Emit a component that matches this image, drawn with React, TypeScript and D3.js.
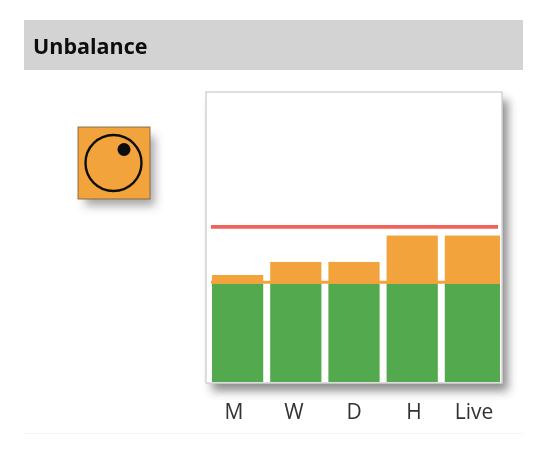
import React from "react";
import * as d3 from "d3";

const categories = ["M", "W", "D", "H", "Live"];
const greenValues = [33.8, 33.8, 33.8, 33.8, 33.8];
const orangeValues = [36.9, 41.4, 41.4, 50.5, 50.5];
const redLimit = 53.5;
const orangeLimit = 34.4;
const title = "Unbalance";

const W = 547;
const H = 458;
const font = "'Open Sans', 'Noto Sans', sans-serif";
const box = { l: 206, r: 502, t: 92, b: 383 };

export default function App() {
  const y = d3.scaleLinear().domain([0, 100]).range([382, 92]);
  const x = d3.scaleBand().domain(categories).range([212, 496]).paddingInner(0.12).paddingOuter(0);
  const xl = d3.scalePoint().domain(categories).range([234, 474]);
  const lastRight = 500;
  return (
    <svg width={W} height={H} viewBox={`0 0 ${W} ${H}`} style={{ position: "absolute", left: 0, top: 0, background: "#fff" }}>
      <defs>
        <filter id="soft" x="-5%" y="-5%" width="110%" height="110%"><feGaussianBlur stdDeviation="0.5" /></filter>
        <filter id="shadow" x="-30%" y="-30%" width="170%" height="170%"><feGaussianBlur stdDeviation="5" /></filter>
      </defs>
      <g filter="url(#soft)">
        <rect x={24} y={20} width={499} height={50} fill="#d3d3d3" />
        <text x={33} y={54} fontFamily={font} fontWeight={700} fontSize={21.5} fill="#0a0a0a">{title}</text>
        <line x1={24} x2={523} y1={433.5} y2={433.5} stroke="#f4f4f4" strokeWidth={1} />

        <rect x={85} y={136} width={70} height={70} fill="#555" opacity={0.5} filter="url(#shadow)" />
        <rect x={78} y={127} width={72} height={72} fill="#f2a33a" stroke="#6f5a3a" strokeWidth={0.8} />
        <circle cx={113.5} cy={163} r={28} fill="none" stroke="#111" strokeWidth={2.4} />
        <circle cx={124} cy={149.5} r={6.5} fill="#0a0a0a" />

        <rect x={box.l + 6} y={box.t + 8} width={box.r - box.l} height={box.b - box.t} fill="#444" opacity={0.6} filter="url(#shadow)" />
        <rect x={box.l} y={box.t} width={box.r - box.l} height={box.b - box.t} fill="#fff" stroke="#d4d4d4" strokeWidth={1.5} />

        <line x1={211} x2={498} y1={y(redLimit)} y2={y(redLimit)} stroke="#f0625a" strokeWidth={3.6} />
        <line x1={211} x2={498} y1={y(orangeLimit)} y2={y(orangeLimit)} stroke="#f2a33a" strokeWidth={3} />
        {categories.map((c, i) => {
          const x0 = x(c)!;
          const w = i === categories.length - 1 ? lastRight - x0 : x.bandwidth();
          return (
            <g key={c}>
              <rect x={x0} y={y(orangeValues[i])} width={w} height={y(greenValues[i]) - y(orangeValues[i])} fill="#f2a33a" />
              <rect x={x0} y={y(greenValues[i])} width={w} height={y(0) - y(greenValues[i])} fill="#52a94d" />
            </g>
          );
        })}
        {categories.map((c) => (
          <text key={c} x={xl(c)} y={419} textAnchor="middle" fontFamily={font} fontSize={21} fill="#333">{c}</text>
        ))}
      </g>
    </svg>
  );
}
